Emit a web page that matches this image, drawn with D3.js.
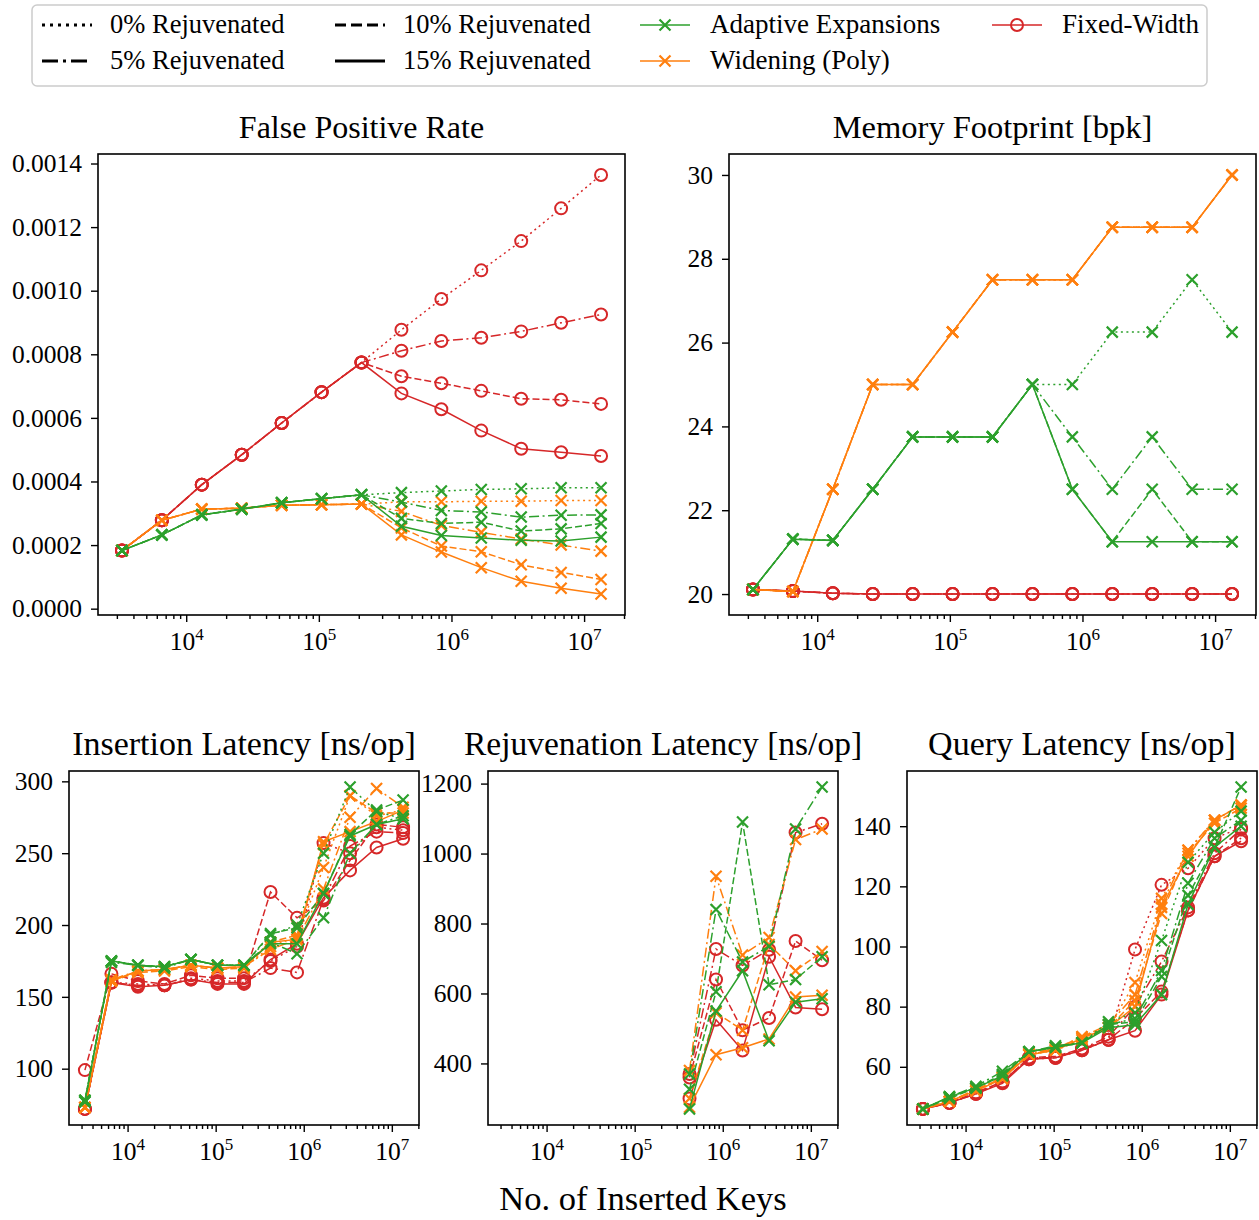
<!DOCTYPE html>
<html>
<head>
<meta charset="utf-8">
<script src="https://cdn.jsdelivr.net/npm/d3@7"></script>
<style>
  body { margin: 0; background: #fff; }
  svg text { font-family: "Liberation Serif", "Times New Roman", serif; fill: #000; }
</style>
</head>
<body>
<script>
// number of inserted keys (x axis, log scale)
const keys = [3277, 6554, 13107, 26214, 52429, 104858, 209715, 419430, 838861, 1677722, 3355443, 6710886, 13421773];

const methods = ["Adaptive Expansions", "Widening (Poly)", "Fixed-Width"];
const rejuvenation = ["0% Rejuvenated", "5% Rejuvenated", "10% Rejuvenated", "15% Rejuvenated"];
const xMajorTicks = [1e4, 1e5, 1e6, 1e7];

// false positive rate, one row per rejuvenation level (0%, 5%, 10%, 15%)
const fprAdaptive = [
  [0.000183, 0.000232, 0.000295, 0.000313, 0.000333, 0.000346, 0.000358, 0.000365, 0.000370, 0.000375, 0.000377, 0.000380, 0.000380],
  [0.000183, 0.000232, 0.000295, 0.000313, 0.000333, 0.000346, 0.000358, 0.000335, 0.000309, 0.000304, 0.000288, 0.000294, 0.000295],
  [0.000183, 0.000232, 0.000295, 0.000313, 0.000333, 0.000346, 0.000358, 0.000284, 0.000268, 0.000272, 0.000244, 0.000251, 0.000268],
  [0.000183, 0.000232, 0.000295, 0.000313, 0.000333, 0.000346, 0.000358, 0.000259, 0.000230, 0.000222, 0.000215, 0.000213, 0.000225]
];
const fprWidening = [
  [0.000183, 0.000278, 0.000313, 0.000316, 0.000325, 0.000327, 0.000329, 0.000336, 0.000336, 0.000338, 0.000338, 0.000340, 0.000340],
  [0.000183, 0.000278, 0.000313, 0.000316, 0.000325, 0.000327, 0.000329, 0.000306, 0.000262, 0.000240, 0.000219, 0.000200, 0.000181],
  [0.000183, 0.000278, 0.000313, 0.000316, 0.000325, 0.000327, 0.000329, 0.000254, 0.000197, 0.000179, 0.000138, 0.000114, 0.000092],
  [0.000183, 0.000278, 0.000313, 0.000316, 0.000325, 0.000327, 0.000329, 0.000232, 0.000178, 0.000129, 0.000086, 0.000064, 0.000046]
];
const fprFixed = [
  [0.000183, 0.000278, 0.000390, 0.000484, 0.000584, 0.000681, 0.000774, 0.000877, 0.000974, 0.001064, 0.001156, 0.001259, 0.001364],
  [0.000183, 0.000278, 0.000390, 0.000484, 0.000584, 0.000681, 0.000774, 0.000811, 0.000842, 0.000852, 0.000872, 0.000899, 0.000925],
  [0.000183, 0.000278, 0.000390, 0.000484, 0.000584, 0.000681, 0.000774, 0.000731, 0.000709, 0.000685, 0.000660, 0.000657, 0.000644],
  [0.000183, 0.000278, 0.000390, 0.000484, 0.000584, 0.000681, 0.000774, 0.000677, 0.000627, 0.000560, 0.000503, 0.000492, 0.000480]
];

// memory footprint [bits per key]
const memAdaptive = [
  [20.11, 21.31, 21.28, 22.5, 23.75, 23.75, 23.75, 25.0, 25.0, 26.25, 26.25, 27.5, 26.25],
  [20.11, 21.31, 21.28, 22.5, 23.75, 23.75, 23.75, 25.0, 23.75, 22.5, 23.75, 22.5, 22.5],
  [20.11, 21.31, 21.28, 22.5, 23.75, 23.75, 23.75, 25.0, 22.5, 21.25, 22.5, 21.25, 21.25],
  [20.11, 21.31, 21.28, 22.5, 23.75, 23.75, 23.75, 25.0, 22.5, 21.25, 21.25, 21.25, 21.25]
];
const memWidening = [
  [20.11, 20.06, 22.5, 25.0, 25.0, 26.25, 27.5, 27.5, 27.5, 28.75, 28.75, 28.75, 30.0],
  [20.11, 20.06, 22.5, 25.0, 25.0, 26.25, 27.5, 27.5, 27.5, 28.75, 28.75, 28.75, 30.0],
  [20.11, 20.06, 22.5, 25.0, 25.0, 26.25, 27.5, 27.5, 27.5, 28.75, 28.75, 28.75, 30.0],
  [20.11, 20.06, 22.5, 25.0, 25.0, 26.25, 27.5, 27.5, 27.5, 28.75, 28.75, 28.75, 30.0]
];
const memFixed = [
  [20.11, 20.07, 20.02, 20.0, 20.0, 20.0, 20.0, 20.0, 20.0, 20.0, 20.0, 20.0, 20.0],
  [20.11, 20.07, 20.02, 20.0, 20.0, 20.0, 20.0, 20.0, 20.0, 20.0, 20.0, 20.0, 20.0],
  [20.11, 20.07, 20.02, 20.0, 20.0, 20.0, 20.0, 20.0, 20.0, 20.0, 20.0, 20.0, 20.0],
  [20.11, 20.07, 20.02, 20.0, 20.0, 20.0, 20.0, 20.0, 20.0, 20.0, 20.0, 20.0, 20.0]
];

// insertion latency [ns/op]
const insAdaptive = [
  [78, 175, 172, 171, 176, 172, 172, 193, 200, 250, 296, 279, 274],
  [78, 174, 172, 170, 176, 172, 172, 188, 180, 205, 250, 270, 276],
  [77, 175, 172, 171, 176, 172, 172, 194, 198, 222, 263, 280, 287],
  [77, 175, 172, 171, 176, 172, 172, 187, 187, 222, 262, 270, 274]
];
const insWidening = [
  [73, 161, 168, 169, 172, 170, 170, 185, 192, 240, 290, 276, 280],
  [73, 162, 168, 169, 172, 170, 171, 183, 190, 225, 275, 295, 282],
  [73, 161, 167, 168, 171, 169, 170, 188, 193, 256, 290, 278, 278],
  [73, 161, 168, 169, 172, 170, 171, 188, 190, 258, 265, 272, 280]
];
const insFixed = [
  [72, 160, 159, 158, 163, 161, 161, 175, 185, 257, 250, 268, 266],
  [72, 160, 158, 158, 162, 160, 160, 170, 167, 218, 255, 265, 264],
  [99, 166, 161, 159, 165, 163, 163, 223, 205, 217, 245, 270, 268],
  [72, 160, 157, 158, 162, 159, 159, 176, 187, 219, 238, 254, 260]
];

// rejuvenation latency [ns/op], nothing is rejuvenated before 4.2e5 keys or at 0%
const rejAdaptive = [
  [null, null, null, null, null, null, null, null, null, null, null, null, null],
  [null, null, null, null, null, null, null, 370, 840, 690, 735, 1070, 1190],
  [null, null, null, null, null, null, null, 326, 605, 1090, 625, 640, 705],
  [null, null, null, null, null, null, null, 270, 550, 665, 465, 575, 585]
];
const rejWidening = [
  [null, null, null, null, null, null, null, null, null, null, null, null, null],
  [null, null, null, null, null, null, null, 380, 935, 710, 760, 1040, 1070],
  [null, null, null, null, null, null, null, 300, 545, 495, 740, 665, 720],
  [null, null, null, null, null, null, null, 275, 425, 445, 470, 590, 595]
];
const rejFixed = [
  [null, null, null, null, null, null, null, null, null, null, null, null, null],
  [null, null, null, null, null, null, null, 370, 727, 680, 725, 1060, 1085],
  [null, null, null, null, null, null, null, 360, 640, 495, 530, 750, 695],
  [null, null, null, null, null, null, null, 300, 525, 437, 705, 560, 555]
];

// query latency [ns/op]
const qryAdaptive = [
  [46, 50, 53, 57, 65, 66.5, 68, 75, 78, 102, 128, 138, 145],
  [46, 50, 53.5, 58.5, 65, 67, 68, 74, 76, 92, 121, 136, 142],
  [46, 49.5, 53, 57.5, 65, 66.5, 68, 74, 75, 90, 117, 133, 153],
  [46, 50, 53, 57, 65, 66.5, 68, 73, 74, 84, 114, 133, 140]
];
const qryWidening = [
  [46, 48.5, 52, 56, 64, 65.5, 69, 73, 88, 116, 132, 142, 147],
  [46, 48.5, 52.5, 56.5, 64.5, 66, 70, 74, 84, 114, 132, 142, 147],
  [46, 48.5, 52, 56.5, 64, 66, 70, 73, 82, 111, 131, 141, 146],
  [46, 48.5, 52, 56, 64, 65.5, 69.5, 73, 80, 113, 130, 142, 147]
];
const qryFixed = [
  [46, 48, 51, 55, 62.5, 63, 65.5, 69, 99, 120.5, 126, 136, 139.5],
  [46, 48, 51, 55, 63, 63, 66, 70, 80, 95, 113, 131, 139],
  [46, 48, 51.5, 55, 63, 63.5, 66, 69, 76, 85, 112, 130, 136],
  [46, 48, 51, 54.5, 62.5, 63, 65.5, 69, 72, 84, 112, 130, 135]
];

// 樣式
const colors = { "Adaptive Expansions": "#2ca02c", "Widening (Poly)": "#ff7f0e", "Fixed-Width": "#d62728" };
const dashes = ["2,3.5", "10,3.5,2,3.5", "7,3", null];
const legendDashes = ["3,5", "16,5,3,5", "11,5", null];

const panels = [
  { title: "False Positive Rate", series: [fprAdaptive, fprWidening, fprFixed],
    yTicks: [0, 0.0002, 0.0004, 0.0006, 0.0008, 0.0010, 0.0012, 0.0014], fmt: d3.format(".4f"),
    x: 98, y: 154, w: 527, h: 461, titleSize: 32 },
  { title: "Memory Footprint [bpk]", series: [memAdaptive, memWidening, memFixed],
    yTicks: [20, 22, 24, 26, 28, 30], fmt: d3.format("d"),
    x: 729, y: 154, w: 527, h: 461, titleSize: 32.5 },
  { title: "Insertion Latency [ns/op]", series: [insAdaptive, insWidening, insFixed],
    yTicks: [100, 150, 200, 250, 300], fmt: d3.format("d"),
    x: 69, y: 771, w: 350, h: 354, titleSize: 34 },
  { title: "Rejuvenation Latency [ns/op]", series: [rejAdaptive, rejWidening, rejFixed],
    yTicks: [400, 600, 800, 1000, 1200], fmt: d3.format("d"),
    x: 488, y: 771, w: 350, h: 354, titleSize: 33.5 },
  { title: "Query Latency [ns/op]", series: [qryAdaptive, qryWidening, qryFixed],
    yTicks: [60, 80, 100, 120, 140], fmt: d3.format("d"),
    x: 907, y: 771, w: 350, h: 354, titleSize: 34 }
];

const width = 1259, height = 1220;
const svg = d3.select("body").append("svg")
  .attr("width", width)
  .attr("height", height);

// x domain: data extent plus 5% in log space
const logExt = d3.extent(keys).map(Math.log10),
  logPad = (logExt[1] - logExt[0]) * 0.05,
  xDomain = [Math.pow(10, logExt[0] - logPad), Math.pow(10, logExt[1] + logPad)];

let minorTicks = [];
for (let e = 3; e <= 7; e++) {
  for (let m = 2; m <= 9; m++) {
    let v = m * Math.pow(10, e);
    if (v >= xDomain[0] && v <= xDomain[1]) minorTicks.push(v);
  }
}

let drawMarker = (sel, method, color) => {
  if (method === "Fixed-Width") {
    sel.append("circle").attr("r", 6)
      .attr("fill", "none").attr("stroke", color).attr("stroke-width", 2);
  } else {
    sel.append("path").attr("d", "M-5.5,-5.5L5.5,5.5M-5.5,5.5L5.5,-5.5")
      .attr("fill", "none").attr("stroke", color).attr("stroke-width", 2.2);
  }
};

let styleAxis = (g) => {
  g.select(".domain").remove();
  g.attr("font-family", null).attr("font-size", null);
  g.selectAll(".tick line").attr("stroke", "#000").attr("stroke-width", 1.4);
  g.selectAll(".tick text").attr("font-size", 25.5);
};

panels.forEach(p => {
  const g = svg.append("g").attr("transform", `translate(${p.x},${p.y})`);

  const x = d3.scaleLog().domain(xDomain).range([0, p.w]);
  const vals = p.series.flat(2).filter(v => v != null),
    ext = d3.extent(vals),
    pad = (ext[1] - ext[0]) * 0.05;
  const y = d3.scaleLinear().domain([ext[0] - pad, ext[1] + pad]).range([p.h, 0]);

  // 畫 X 軸
  g.append("g")
    .attr("transform", `translate(0,${p.h})`)
    .call(d3.axisBottom(x).tickValues(minorTicks).tickSize(4).tickFormat(""))
    .call(styleAxis);
  const xMajor = g.append("g")
    .attr("transform", `translate(0,${p.h})`)
    .call(d3.axisBottom(x).tickValues(xMajorTicks).tickSize(7).tickFormat(""))
    .call(styleAxis);
  xMajor.selectAll(".tick").each(function (d) {
    const t = d3.select(this).append("text")
      .attr("y", 35)
      .attr("text-anchor", "middle")
      .attr("font-size", 25.5);
    t.append("tspan").text("10");
    t.append("tspan").attr("dy", -10).attr("font-size", 17).text(Math.round(Math.log10(d)));
  });

  // 畫 Y 軸
  g.append("g")
    .call(d3.axisLeft(y).tickValues(p.yTicks).tickSize(7).tickPadding(9).tickFormat(p.fmt))
    .call(styleAxis);

  // 畫折線, 順序: Fixed-Width, Widening, Adaptive
  const line = d3.line()
    .defined(d => d.v != null)
    .x(d => x(d.k))
    .y(d => y(d.v));

  [2, 1, 0].forEach(mi => {
    const method = methods[mi], color = colors[method];
    p.series[mi].forEach((row, ri) => {
      const pts = row.map((v, i) => ({ k: keys[i], v: v }));
      g.append("path")
        .attr("d", line(pts))
        .attr("fill", "none")
        .attr("stroke", color)
        .attr("stroke-width", 1.5)
        .attr("stroke-dasharray", dashes[ri]);
      pts.filter(d => d.v != null).forEach(d => {
        drawMarker(g.append("g").attr("transform", `translate(${x(d.k)},${y(d.v)})`), method, color);
      });
    });
  });

  // 外框
  g.append("rect")
    .attr("width", p.w).attr("height", p.h)
    .attr("fill", "none").attr("stroke", "#000").attr("stroke-width", 1.6);

  // 標題
  g.append("text")
    .attr("x", p.w / 2).attr("y", -16)
    .attr("text-anchor", "middle")
    .attr("font-size", p.titleSize)
    .text(p.title);
});

// X 軸標籤
svg.append("text")
  .attr("x", 643).attr("y", 1210)
  .attr("text-anchor", "middle")
  .attr("font-size", 34.5)
  .text("No. of Inserted Keys");

// 圖例
const legend = svg.append("g");
legend.append("rect")
  .attr("x", 32).attr("y", 5).attr("width", 1175).attr("height", 81).attr("rx", 5)
  .attr("fill", "#fff").attr("stroke", "#cccccc").attr("stroke-width", 1.5);

const legendCols = [42, 335, 640, 992], rowY = [25, 61];
rejuvenation.forEach((label, i) => {
  const cx = legendCols[Math.floor(i / 2)], cy = rowY[i % 2];
  legend.append("line")
    .attr("x1", cx).attr("x2", cx + 50).attr("y1", cy).attr("y2", cy)
    .attr("stroke", "#000").attr("stroke-width", 3)
    .attr("stroke-dasharray", legendDashes[i]);
  legend.append("text")
    .attr("x", cx + 68).attr("y", cy + 8)
    .attr("font-size", 26.5)
    .text(label);
});
methods.forEach((method, i) => {
  const cx = legendCols[2 + Math.floor(i / 2)], cy = rowY[i % 2], color = colors[method];
  legend.append("line")
    .attr("x1", cx).attr("x2", cx + 50).attr("y1", cy).attr("y2", cy)
    .attr("stroke", color).attr("stroke-width", 1.5);
  drawMarker(legend.append("g").attr("transform", `translate(${cx + 25},${cy})`), method, color);
  legend.append("text")
    .attr("x", cx + 70).attr("y", cy + 8)
    .attr("font-size", 27)
    .text(method);
});
</script>
</body>
</html>
